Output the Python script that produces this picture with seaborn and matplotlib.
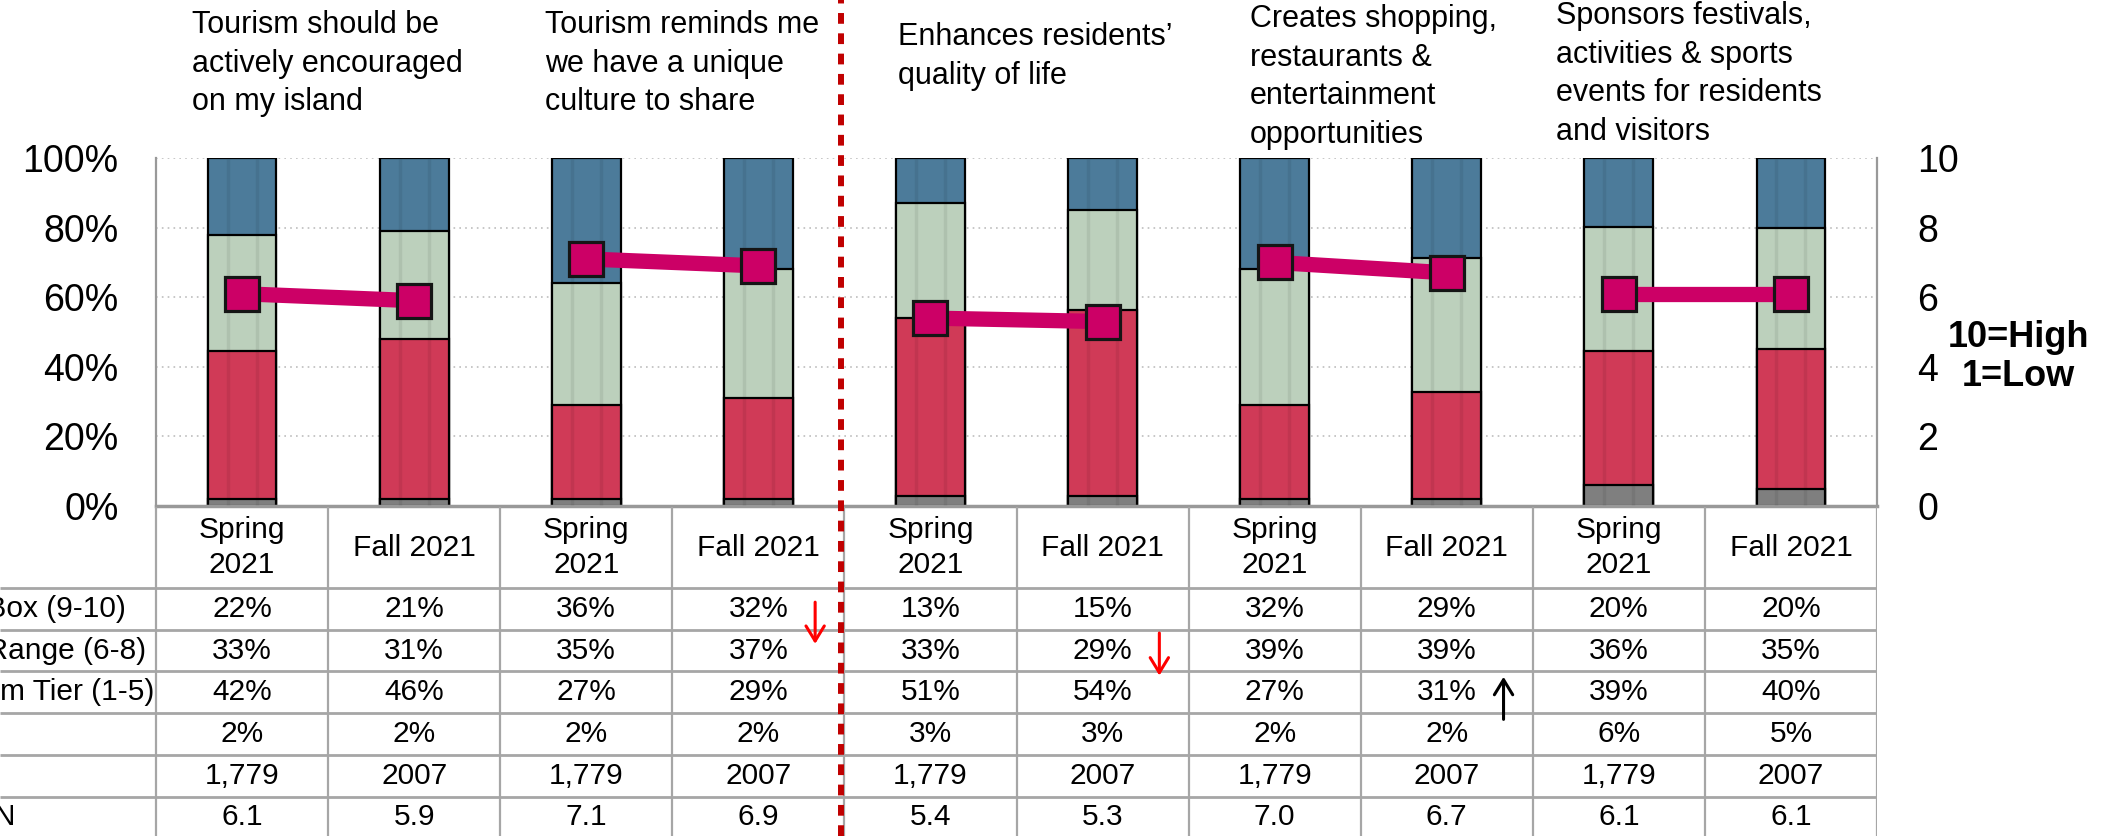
import numpy as np
import pandas as pd
import seaborn as sns
import matplotlib.pyplot as plt
from matplotlib.lines import Line2D

# survey items (two waves each)
items = ["Tourism should be\nactively encouraged\non my island",
         "Tourism reminds me\nwe have a unique\nculture to share",
         "Enhances residents\u2019\nquality of life",
         "Creates shopping,\nrestaurants &\nentertainment\nopportunities",
         "Sponsors festivals,\nactivities & sports\nevents for residents\nand visitors"]
periods = ["Spring\n2021", "Fall 2021"]

top_box = [22, 21, 36, 32, 13, 15, 32, 29, 20, 20]
mid_range = [33, 31, 35, 37, 33, 29, 39, 39, 36, 35]
bottom_tier = [42, 46, 27, 29, 51, 54, 27, 31, 39, 40]
dont_know = [2, 2, 2, 2, 3, 3, 2, 2, 6, 5]
n_resp = ["1,779", "2007", "1,779", "2007", "1,779", "2007", "1,779", "2007", "1,779", "2007"]
means = [6.1, 5.9, 7.1, 6.9, 5.4, 5.3, 7.0, 6.7, 6.1, 6.1]
row_labels = ["Top Box (9-10)", "Mid Range (6-8)", "Bottom Tier (1-5)", "", "", "MEAN"]

# change arrows: (column, tail row pos, head row pos, colour)
arrows = [(3, 0.34, 1.34, "#FF0000"), (5, 1.08, 2.1, "#FF0000"), (7, 3.15, 2.13, "black")]

BLUE, GREEN, RED, GREY = "#4C7B9A", "#BCD0BC", "#D03A57", "#7F7F7F"
MAGENTA = "#CC0066"
LINE = "#A6A6A6"

W, H = 2118, 836
sns.set_theme(style="white")
plt.rcParams["font.family"] = ["Liberation Sans", "DejaVu Sans"]
plt.rcParams["text.color"] = "black"
plt.rcParams["ytick.color"] = "black"
plt.rcParams["axes.labelcolor"] = "black"

fig = plt.figure(figsize=(W / 100, H / 100), dpi=100)

# plot area in pixels
x0, x1, ytop, ybot = 156, 1877, 158, 506
ax = fig.add_axes([x0 / W, 1 - ybot / H, (x1 - x0) / W, (ybot - ytop) / H])

pos = np.arange(len(means))
df = pd.DataFrame({"pos": pos, "top": top_box, "mid": mid_range,
                   "bottom": bottom_tier, "dk": dont_know, "mean": means})
total = df[["top", "mid", "bottom", "dk"]].sum(axis=1)
df["c1"] = df["dk"] / total
df["c2"] = (df["dk"] + df["bottom"]) / total
df["c3"] = (df["dk"] + df["bottom"] + df["mid"]) / total
df["c4"] = 1.0

for col, colr in [("c4", BLUE), ("c3", GREEN), ("c2", RED), ("c1", GREY)]:
    sns.barplot(data=df, x="pos", y=col, color=colr, saturation=1, width=0.4,
                edgecolor="black", linewidth=1.6, errorbar=None, ax=ax)

# subtle vertical bands on the bars
for p in list(ax.patches)[:len(means)]:
    bx, bw, bh = p.get_x(), p.get_width(), p.get_height()
    for f in (0.29, 0.71):
        ax.plot([bx + bw * f] * 2, [0.004, bh - 0.004], color="black", alpha=0.07,
                lw=2.5, solid_capstyle="butt", zorder=3)

ax.set_xlim(-0.5, len(means) - 0.5)
ax.set_ylim(0, 1)
ax.set_xticks([])
ax.set_xlabel("")
ax.set_ylabel("")
ax.set_yticks(np.linspace(0, 1, 6))
ax.set_yticklabels([f"{int(round(v * 100))}%" for v in np.linspace(0, 1, 6)])
ax.tick_params(axis="y", length=0, pad=27, labelsize=27)
ax.yaxis.grid(True, linestyle=(0, (1, 2.5)), color="#BDBDBD", lw=1.2)
ax.set_axisbelow(True)
for s in ["top", "right"]:
    ax.spines[s].set_visible(False)
ax.spines["left"].set_color("#999999")
ax.spines["left"].set_linewidth(1.6)
ax.spines["bottom"].set_color("#999999")
ax.spines["bottom"].set_linewidth(2.5)

# mean score line on 1-10 scale
ax2 = ax.twinx()
for i in range(len(items)):
    sub = df.iloc[2 * i:2 * i + 2]
    sns.lineplot(data=sub, x="pos", y="mean", ax=ax2, color=MAGENTA, lw=11,
                 marker="s", markersize=24, markerfacecolor=MAGENTA,
                 markeredgecolor="#151515", markeredgewidth=2.3)
ax2.set_ylim(0, 10)
ax2.set_xlim(-0.5, len(means) - 0.5)
ax2.set_yticks(range(0, 11, 2))
ax2.set_yticklabels([str(v) for v in range(0, 11, 2)])
ax2.tick_params(axis="y", length=0, pad=29, labelsize=27)
ax2.set_xlabel("")
ax2.set_ylabel("")
for s in ["top", "left", "bottom"]:
    ax2.spines[s].set_visible(False)
ax2.spines["right"].set_color("#999999")
ax2.spines["right"].set_linewidth(1.6)

fig.text(2018 / W, 1 - 357 / H, "10=High\n1=Low", ha="center", va="center",
         fontsize=26, fontweight="bold", linespacing=1.18)

# item titles
title_x = [192, 545, 898, 1250, 1556]
title_y = [10, 10, 22, 4, 1]
for t, tx, ty in zip(items, title_x, title_y):
    fig.text(tx / W, 1 - ty / H, t, ha="left", va="top", fontsize=22,
             linespacing=1.37)

# data table below the bars
col_w = (x1 - x0) / len(means)
tab_top = 507
tax = fig.add_axes([0, 0, x1 / W, (H - tab_top) / H])
tax.set_xlim(-0.5 - x0 / col_w, len(means) - 0.5)
tax.set_ylim(H, tab_top)
tax.axis("off")
head_bot, row_h = 588, 41.7
row_edges = [head_bot + k * row_h for k in range(len(row_labels))]
left_edge = -0.5 - x0 / col_w
tax.hlines(row_edges, left_edge, len(means) - 0.5, color=LINE, lw=2)
tax.vlines(np.arange(len(means) + 1) - 0.5, tab_top, H, color=LINE, lw=1.6)

for c in range(len(means)):
    tax.text(c, (tab_top + head_bot) / 2, periods[c % 2], ha="center", va="center",
             fontsize=21.5, linespacing=1.28)
    vals = [f"{top_box[c]}%", f"{mid_range[c]}%", f"{bottom_tier[c]}%",
            f"{dont_know[c]}%", n_resp[c], f"{means[c]:.1f}"]
    for r, v in enumerate(vals):
        tax.text(c, head_bot + (r + 0.5) * row_h, v, ha="center", va="center",
                 fontsize=21.5)

for r, lab in enumerate(row_labels):
    tax.text(left_edge - 70 / col_w, head_bot + (r + 0.5) * row_h, lab,
             ha="left", va="center", fontsize=21.5)

for c, r0, r1, colr in arrows:
    tax.annotate("", xy=(c + 0.33, head_bot + r1 * row_h),
                 xytext=(c + 0.33, head_bot + r0 * row_h),
                 arrowprops=dict(arrowstyle="->,head_length=0.9,head_width=0.55",
                                 color=colr, lw=2.2, shrinkA=0, shrinkB=0))

# dashed separator between the two groups of items
fig.add_artist(Line2D([841 / W, 841 / W], [0, 1], transform=fig.transFigure,
                      color="#C00000", lw=4.3, dashes=(1.8, 1.6)))

fig.savefig("out.png", dpi=100)
